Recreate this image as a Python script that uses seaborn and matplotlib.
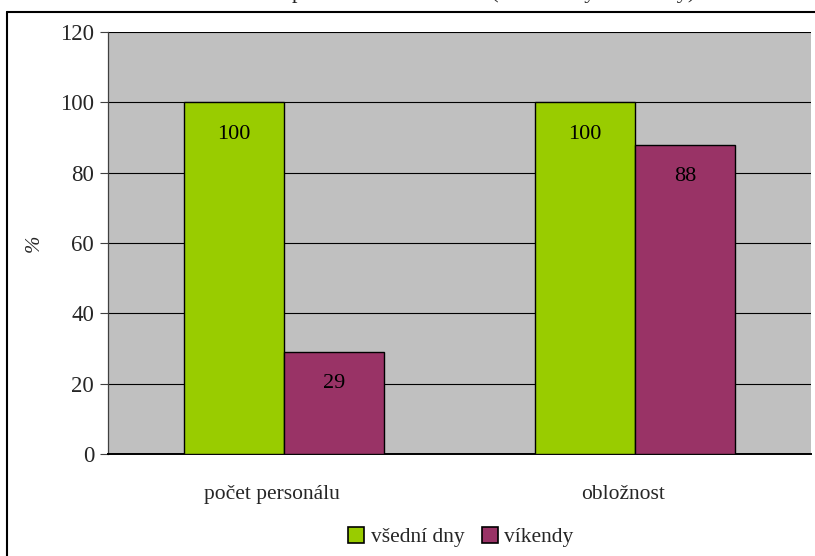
import matplotlib
matplotlib.use("Agg")
import matplotlib.pyplot as plt
from matplotlib.lines import Line2D
import matplotlib.transforms as mtransforms
import seaborn as sns
import pandas as pd

# Data
categories = ["počet personálu", "obložnost"]
series_names = ["všední dny", "víkendy"]
weekday_values = [100, 100]
weekend_values = [29, 88]
y_ticks = [0, 20, 40, 60, 80, 100, 120]

df = pd.DataFrame({
    "kategorie": categories * 2,
    "období": [series_names[0]] * 2 + [series_names[1]] * 2,
    "hodnota": weekday_values + weekend_values,
})

sns.set_theme(style="white")
plt.rcParams["font.family"] = ["Liberation Serif", "DejaVu Serif"]

fig = plt.figure(figsize=(8.15, 5.56), dpi=100)
ax = fig.add_axes([108 / 815, 102 / 556, 703 / 815, 422 / 556])

palette = {"všední dny": "#99CC00", "víkendy": "#993366"}
sns.barplot(data=df, x="kategorie", y="hodnota", hue="období",
            order=categories, hue_order=series_names, palette=palette,
            width=0.57, gap=0, edgecolor="black", linewidth=1.0,
            saturation=1, ax=ax, zorder=3)

ax.set_facecolor("#C0C0C0")
ax.set_ylim(0, 120)
ax.set_yticks(y_ticks)
ax.set_yticklabels([str(t) for t in y_ticks], fontsize=16.5)
ax.yaxis.grid(True, color="black", linewidth=0.8, zorder=0)
ax.set_axisbelow(True)
ax.tick_params(axis="y", length=6, width=0.8, color="#404040", pad=4,
               left=True, direction="out")
ax.tick_params(axis="x", length=0, pad=22, labelsize=15.5)
ax.set_xlabel("")
ax.set_ylabel("%", fontsize=15, labelpad=12, fontstyle="italic")

# Category labels sit slightly left of the group centres
shift = mtransforms.ScaledTranslation(-12 / 100, 0, fig.dpi_scale_trans)
for lbl in ax.get_xticklabels():
    lbl.set_transform(lbl.get_transform() + shift)

for side in ["top", "right"]:
    ax.spines[side].set_visible(False)
ax.spines["left"].set_color("#404040")
ax.spines["left"].set_linewidth(0.9)
ax.spines["bottom"].set_color("black")
ax.spines["bottom"].set_linewidth(1.4)

# Value labels inside the bars, near the top edge
for container in ax.containers:
    for bar in container:
        h = bar.get_height()
        ax.annotate(f"{h:g}", (bar.get_x() + bar.get_width() / 2, h),
                    xytext=(0, -23), textcoords="offset points",
                    ha="center", va="center", fontsize=16, color="black",
                    zorder=5)

# Legend below the plot
handles = [plt.Rectangle((0, 0), 1, 1, facecolor=palette[s],
                         edgecolor="black", linewidth=1.2)
           for s in series_names]
if ax.legend_:
    ax.legend_.remove()
fig.legend(handles, series_names, loc="center", bbox_to_anchor=(461 / 815, 1 - 537 / 556),
           ncol=2, frameon=False, fontsize=15.5, handlelength=0.75, handleheight=0.75,
           handletextpad=0.3, columnspacing=0.8)

# Outer chart frame
fig.add_artist(Line2D([7 / 815, 1.0], [1 - 11.5 / 556] * 2, color="black",
                      linewidth=1.5, transform=fig.transFigure))
fig.add_artist(Line2D([7 / 815] * 2, [0, 1 - 11.5 / 556], color="black",
                      linewidth=1.5, transform=fig.transFigure))

# Title sits at the top edge of the canvas
fig.text(466 / 815, 1 + 2 / 556, "Počet personálu a obložnost (všední dny a víkendy)",
         ha="center", va="baseline", fontsize=16)

fig.savefig("out.png", dpi=100)
